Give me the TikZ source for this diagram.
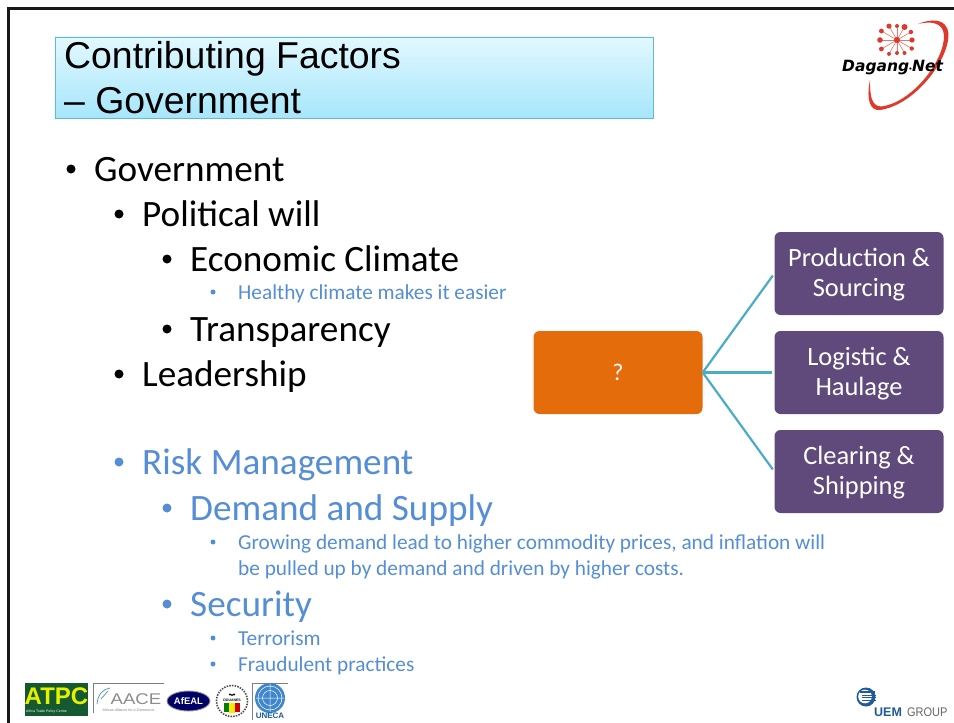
\documentclass[tikz,border=0pt]{standalone}
\usepackage{fontspec}
\usetikzlibrary{shapes.geometric}
\setmainfont{Carlito}
\newfontfamily\arialf{Liberation Sans}
\newfontfamily\dejaf{DejaVu Sans}
\definecolor{bluetx}{HTML}{558ED5}
\definecolor{purp}{HTML}{604A7B}
\definecolor{orng}{HTML}{E46C0A}
\definecolor{teal}{HTML}{4BACC6}
\definecolor{dred}{HTML}{DC3A2C}
\definecolor{uemb}{HTML}{1F5C99}
\definecolor{ttop}{HTML}{E2F8FF}
\definecolor{tbot}{HTML}{A6E6FA}
\definecolor{atpcg}{HTML}{14592F}
\definecolor{atpcy}{HTML}{E6F000}
\definecolor{unb}{HTML}{3F87CC}
\tikzset{
 x=1pt,y=-1pt,
 lvA/.style={anchor=base west,inner sep=0pt,font=\fontsize{37.2}{37.2}\selectfont},
 lvB/.style={anchor=base west,inner sep=0pt,font=\fontsize{21.3}{21.3}\selectfont},
 bl/.style={text=bluetx},
 dotA/.style={circle,fill=black,inner sep=0pt,minimum size=9pt},
 dotB/.style={circle,fill=bluetx,inner sep=0pt,minimum size=5pt},
 box/.style={rounded corners=6pt,draw=none,text=white,align=center,minimum width=169pt,minimum height=83pt,inner sep=0pt,font=\fontsize{26.4}{30}\selectfont},
 link/.style={draw=teal,line width=2.2pt,shorten >=2.5pt},
}
\begin{document}
\begin{tikzpicture}
\useasboundingbox (0,0) rectangle (954,723);
\fill[white] (0,0) rectangle (954,723);
\draw[line width=2.6pt,black!90] (8.5,723) -- (8.5,8.5) -- (954,8.5);
% title
\node[draw=teal!85!white,line width=0.8pt,top color=ttop,bottom color=tbot,minimum width=598.5pt,minimum height=81.5pt,inner sep=0pt,anchor=north west] (title) at (54.5,36.5) {};
\node[anchor=base west,inner sep=0pt,font=\arialf\fontsize{37.4}{37.4}\selectfont] (t1) at (64,68) {Contributing Factors};
\node[anchor=base west,inner sep=0pt,font=\arialf\fontsize{37.4}{37.4}\selectfont] (t2) at (64,113) {– Government};
% bullets
\foreach \n/\px/\py in {a/71/169,b/119/214,c/167/259,e/167/329,f/119/374}{\node[dotA] (d\n) at (\px,\py) {};}
\foreach \n/\px/\py in {g/119/462,h/167/508,i/167/604}{\node[dotA,fill=bluetx] (d\n) at (\px,\py) {};}
\foreach \n/\px/\py in {p/213/292,q/213/542,r/213/638,s/213/664}{\node[dotB] (d\n) at (\px,\py) {};}
\node[lvA] (l1) at (94,181) {Government};
\node[lvA] (l2) at (142,226) {Political will};
\node[lvA] (l3) at (190,271) {Economic Climate};
\node[lvB,bl] (l4) at (238,299) {Healthy climate makes it easier};
\node[lvA] (l5) at (190,341) {Transparency};
\node[lvA] (l6) at (142,386) {Leadership};
\node[lvA,bl] (l7) at (142,474) {Risk Management};
\node[lvA,bl] (l8) at (190,520) {Demand and Supply};
\node[lvB,bl] (l9) at (238,549) {Growing demand lead to higher commodity prices, and inflation will};
\node[lvB,bl] (l10) at (238,575) {be pulled up by demand and driven by higher costs.};
\node[lvA,bl] (l11) at (190,616) {Security};
\node[lvB,bl] (l12) at (238,645) {Terrorism};
\node[lvB,bl] (l13) at (238,671) {Fraudulent practices};
% diagram
\node[box,fill=orng,font=\fontsize{24}{26}\selectfont] (q) at (618,372.5) {?};
\node[box,fill=purp] (n1) at (859,273.5) {\rule{0pt}{20pt}Production \&\\Sourcing};
\node[box,fill=purp] (n2) at (859,372.5) {\rule{0pt}{20pt}Logistic \&\\Haulage};
\node[box,fill=purp] (n3) at (859,471.5) {\rule{0pt}{20pt}Clearing \&\\Shipping};
\draw[link] (q.east) -- (n1.west);
\draw[link] (q.east) -- (n2.west);
\draw[link] (q.east) -- (n3.west);
% Dagang Net logo
\fill[dred] (918,24) .. controls (930,19) and (947,17) .. (948.5,34) .. controls (949,60) and (915,105) .. (880,110) .. controls (870,111) and (866,100) .. (870,80) .. controls (870,95) and (871,106) .. (881,106.5) .. controls (912,103) and (945,60) .. (944,35) .. controls (943,22) and (930,21) .. (918,24) -- cycle;
\coordinate (hub) at (897,40);
\foreach \a/\r/\s in {0/15/2.6,30/17/2.2,60/15/2,90/13/2,120/16/2,150/18/2.4,180/17/2.8,210/18/2.4,240/16/2.6,270/14/2,300/15/3,330/16/2.2}{
 \draw[dred!70!white,line width=0.6pt] (hub) -- ++(\a:\r);
 \fill[dred] (hub) ++(\a:\r) circle (\s);
}
\fill[dred] (hub) circle (3);
\node[inner sep=0pt,font=\dejaf\bfseries\itshape\fontsize{15.5}{15.5}\selectfont,text=black,anchor=base west] (dn) at (842,71.5) {Dagang\raisebox{1.5pt}{\scalebox{0.4}{$\bullet$}}Net};
% footer logos
\node[fill=atpcg,minimum width=63pt,minimum height=33pt,inner sep=0pt,anchor=north west] (atpc) at (25,683) {};
\node[inner sep=0pt,text=atpcy,font=\arialf\bfseries\fontsize{24}{24}\selectfont] (atpct) at (56.5,696) {ATPC};
\node[inner sep=0pt,text=white,font=\arialf\fontsize{3.5}{4}\selectfont,anchor=west] (atpcs) at (26,711.5) {Africa Trade Policy Centre};
\draw[gray,line width=0.7pt] (164,683.5) -- (93.5,683.5) -- (93.5,713);
\node[inner sep=0pt,text=black!45,font=\arialf\fontsize{15.5}{15.5}\selectfont,xscale=1.2] (aace) at (136,699.5) {AACE};
\node[inner sep=0pt,text=black!50,font=\arialf\fontsize{3.6}{4}\selectfont] (aaces) at (128.5,710) {African Alliance for e-Commerce};
\draw[teal!70!gray,line width=0.8pt] (97,704) .. controls (98,694) and (103,689) .. (110,688);
\draw[teal!70!gray,line width=0.8pt] (101,699) -- (108,691);
\node[ellipse,fill=blue!40!black,draw=black!40,line width=0.9pt,minimum width=43pt,minimum height=20pt,inner sep=0pt] (afeal) at (188.5,701) {};
\node[inner sep=0pt,text=white,font=\arialf\bfseries\fontsize{9.5}{10}\selectfont] (afealt) at (188.5,701) {AfEAL};
\draw[black!70,line width=1.6pt,dash pattern=on 1.5pt off 1.2pt] (232,701) circle (15.5);
\fill[white] (232,701) circle (13);
\node[inner sep=0pt,font=\arialf\bfseries\fontsize{3.5}{4}\selectfont] (sg) at (232,700) {DOUANES};
\foreach \a in {-30,0,30}{\fill[black] (232,691) ++(90+\a:4) circle (1.2);}
\fill[green!50!black] (223.5,703) rectangle (229,712);
\fill[yellow!90!orange] (229,703) rectangle (234.5,713);
\fill[red!80!black] (234.5,703) rectangle (240,712);
\draw[gray,line width=0.7pt] (252.5,720) -- (252.5,683.5) -- (288,683.5);
\fill[unb] (270,698) circle (15);
\draw[white,line width=0.5pt] (270,698) circle (7.5) (270,698) circle (12) (256,698) -- (284,698) (270,684) -- (270,712);
\node[inner sep=0pt,text=uemb,font=\arialf\bfseries\fontsize{8}{8}\selectfont] (un) at (270,716) {UNECA};
% UEM logo
\fill[uemb] (866,697) circle (9.5);
\fill[white] (865,696.5) circle (6.8);
\fill[uemb] (860,690.5) rectangle (875,693);
\foreach \ly in {694.5,697,699.5}{\fill[uemb] (862,\ly) rectangle (875.5,\ly+1.3);}
\node[anchor=base west,inner sep=0pt,text=uemb,font=\arialf\bfseries\fontsize{12.5}{13}\selectfont] (uem) at (874,716) {UEM};
\node[anchor=base west,inner sep=0pt,text=black!60,font=\arialf\fontsize{12.5}{13}\selectfont,xscale=0.88] (grp) at (907,716) {GROUP};
\end{tikzpicture}
\end{document}
